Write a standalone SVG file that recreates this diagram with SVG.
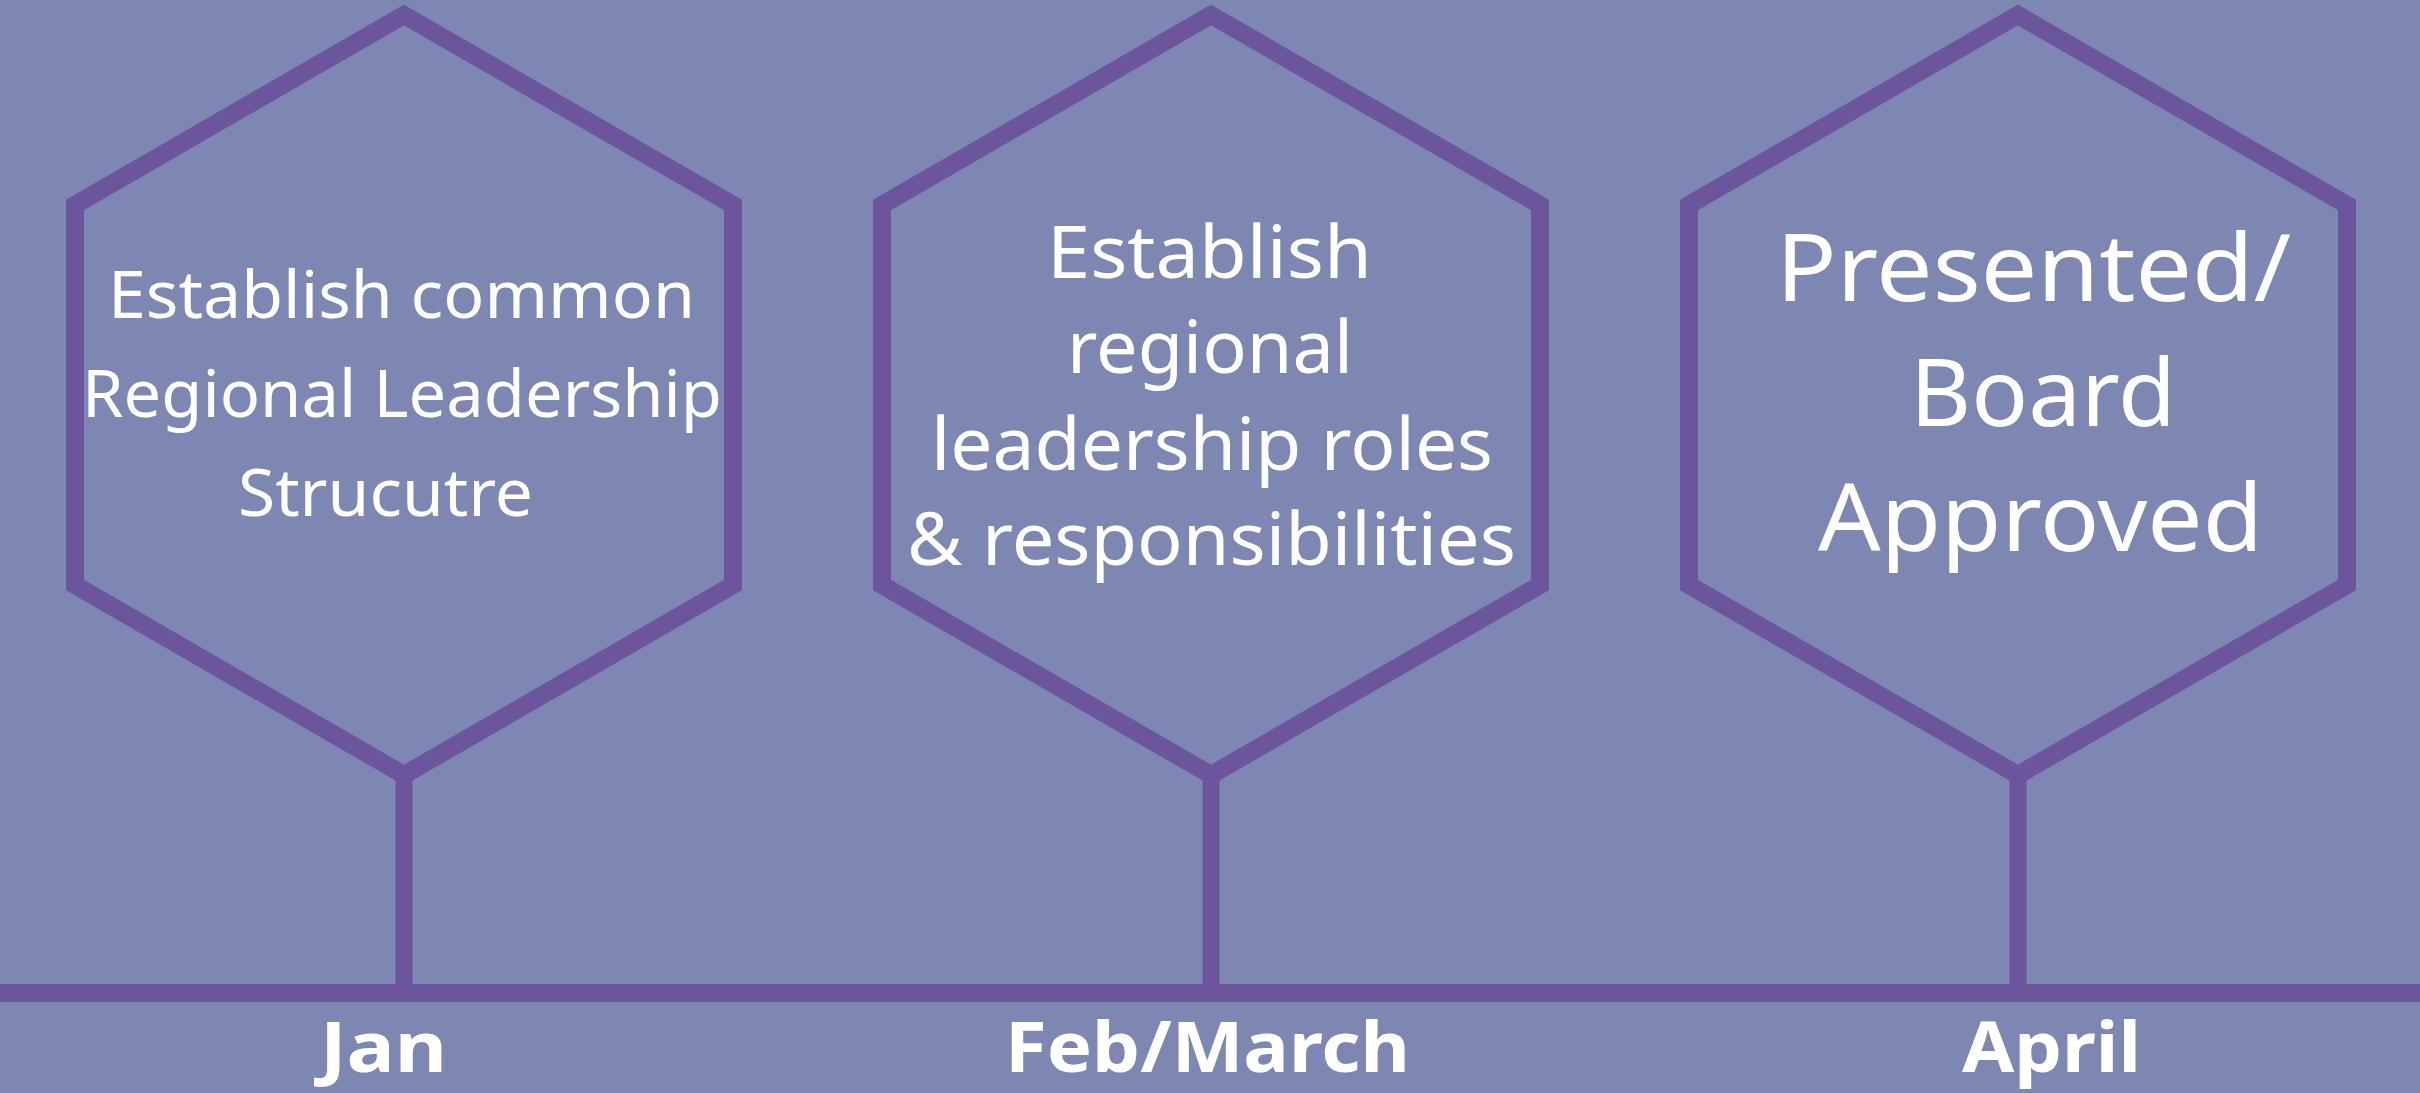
<svg xmlns="http://www.w3.org/2000/svg" width="2420" height="1093" viewBox="0 0 2420 1093">
<style>
.hex{fill:none;stroke:#6B569D;stroke-width:18;stroke-linejoin:miter}
.stem{stroke:#6B569D;stroke-width:17}
.t{fill:#FFFFFF;font-family:"Noto Sans","DejaVu Sans Condensed","Liberation Sans",sans-serif}
.lab{fill:#FFFFFF;font-family:"Noto Sans","Liberation Sans",sans-serif;font-weight:bold;font-size:70px}
</style>
<rect x="0" y="0" width="2420" height="1093" fill="#7E87B1"/>
<g id="connectors">
<line class="stem" x1="404" y1="772" x2="404" y2="986"/>
<line class="stem" x1="1211" y1="772" x2="1211" y2="986"/>
<line class="stem" x1="2018" y1="772" x2="2018" y2="986"/>
<rect x="0" y="984" width="2420" height="18" fill="#6B569D"/>
</g>
<g id="node-jan">
<polygon class="hex" points="404,15 733,205 733,585 404,775 75,585 75,205"/>
<text class="t" font-size="66" x="108" y="318" textLength="587" lengthAdjust="spacingAndGlyphs">Establish common</text>
<text class="t" font-size="66" x="82" y="417" textLength="640" lengthAdjust="spacingAndGlyphs">Regional Leadership</text>
<text class="t" font-size="66" x="238" y="516" textLength="295" lengthAdjust="spacingAndGlyphs">Strucutre</text>
</g>
<g id="node-febmarch">
<polygon class="hex" points="1211,15 1540,205 1540,585 1211,775 882,585 882,205"/>
<text class="t" font-size="73" x="1047" y="278" textLength="325" lengthAdjust="spacingAndGlyphs">Establish</text>
<text class="t" font-size="73" x="1067" y="373" textLength="286" lengthAdjust="spacingAndGlyphs">regional</text>
<text class="t" font-size="73" x="931" y="470" textLength="562" lengthAdjust="spacingAndGlyphs">leadership roles</text>
<text class="t" font-size="73" x="907" y="565" textLength="609" lengthAdjust="spacingAndGlyphs">&amp; responsibilities</text>
</g>
<g id="node-april">
<polygon class="hex" points="2018,15 2347,205 2347,585 2018,775 1689,585 1689,205"/>
<text class="t" font-size="94" x="1776" y="301" textLength="515" lengthAdjust="spacingAndGlyphs">Presented/</text>
<text class="t" font-size="94" x="1910" y="426" textLength="266" lengthAdjust="spacingAndGlyphs">Board</text>
<text class="t" font-size="94" x="1818" y="551" textLength="445" lengthAdjust="spacingAndGlyphs">Approved</text>
</g>
<g id="labels">
<text class="lab" x="320" y="1072" textLength="127" lengthAdjust="spacingAndGlyphs">Jan</text>
<text class="lab" x="1005" y="1072" textLength="405" lengthAdjust="spacingAndGlyphs">Feb/March</text>
<text class="lab" x="1962" y="1072" textLength="179" lengthAdjust="spacingAndGlyphs">April</text>
</g>
</svg>
